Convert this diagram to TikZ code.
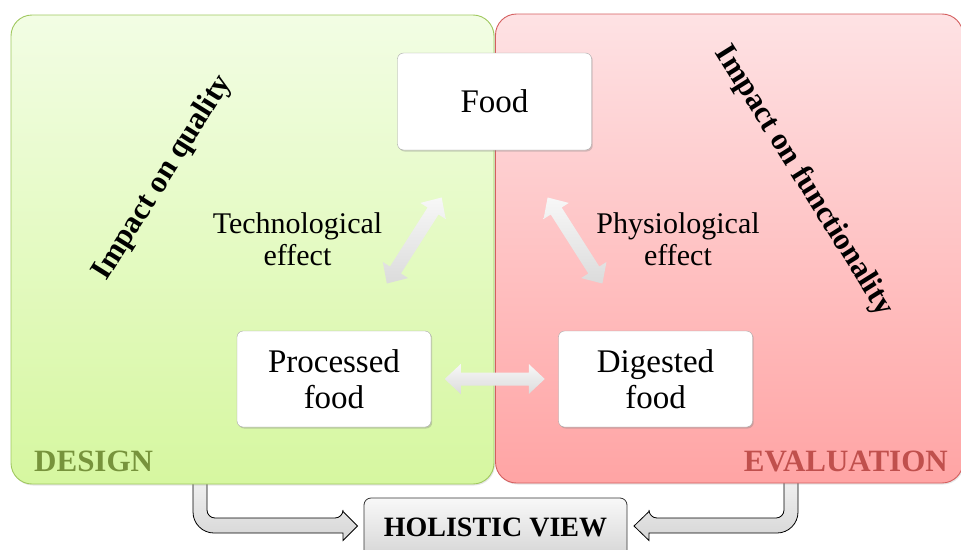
\documentclass[tikz,border=0pt]{standalone}
\usepackage{fontspec}
\setmainfont{Liberation Serif}
\usetikzlibrary{calc,shadows}
\definecolor{gtop}{RGB}{242,253,228}
\definecolor{gbot}{RGB}{214,247,160}
\definecolor{gline}{RGB}{160,200,95}
\definecolor{rtop}{RGB}{254,226,228}
\definecolor{rbot}{RGB}{255,164,164}
\definecolor{rline}{RGB}{212,95,95}
\definecolor{designc}{RGB}{119,147,60}
\definecolor{evalc}{RGB}{192,80,77}
\tikzset{
  whitebox/.style={draw=gray!70, fill=white, rounded corners=6pt, align=center,
    minimum width=194pt, minimum height=96pt, inner sep=0pt,
    font=\fontsize{33}{36}\selectfont,
    drop shadow={shadow xshift=1.2pt, shadow yshift=-1.5pt, opacity=0.35}},
  efflabel/.style={align=center, font=\fontsize{30}{32}\selectfont, inner sep=0pt},
  impact/.style={font=\bfseries\fontsize{31}{34}\selectfont, inner sep=0pt},
  arrowshade/.style={top color=gray!6, bottom color=gray!28},
  bentarrow/.style={draw=black, line width=0.8pt, top color=gray!8, bottom color=gray!32},
}
\newcommand\dblarr[3]{%
  \begin{scope}[shift={#1},rotate=#2]
    \shade[arrowshade] (-#3,0) -- (-#3+16,15) -- (-#3+16,6.5) -- (#3-16,6.5) -- (#3-16,15)
      -- (#3,0) -- (#3-16,-15) -- (#3-16,-6.5) -- (-#3+16,-6.5) -- (-#3+16,-15) -- cycle;
  \end{scope}}
\begin{document}
\begin{tikzpicture}[x=1pt,y=-1pt]
\useasboundingbox (0,0) rectangle (961,549);
\clip (0,0) rectangle (961,549);

% bent arrows to holistic view (drawn under the panels)
\path[bentarrow] (207,470) [rounded corners=8] -- (207,518) -- (343,518) [sharp corners]
  -- (343,511.5) -- (357.5,526) -- (343,540.5) -- (343,533) [rounded corners=21] -- (193,533)
  [sharp corners] -- (193,470) -- cycle;
\path[bentarrow] (784,470) [rounded corners=8] -- (784,518) -- (649,518) [sharp corners]
  -- (649,511.5) -- (634,526) -- (649,540.5) -- (649,533) [rounded corners=21] -- (798,533)
  [sharp corners] -- (798,470) -- cycle;

% panels
\shade[top color=gtop, bottom color=gbot, draw=gline, line width=0.9pt, rounded corners=21,
  drop shadow={shadow xshift=1pt, shadow yshift=-1.5pt, opacity=0.2}]
  (11,15) rectangle (494,484);
\shade[top color=rtop, bottom color=rbot, draw=rline, line width=0.9pt, rounded corners=21,
  drop shadow={shadow xshift=1pt, shadow yshift=-1.5pt, opacity=0.2}]
  (495.5,14) rectangle (963,483);

% side labels
\node[impact, rotate=58] (quality) at (163,178) {Impact on quality};
\node[impact, rotate=-58] (functionality) at (804,181) {Impact on functionality};
\node[font=\bfseries\fontsize{31}{34}\selectfont, text=designc, anchor=base west, inner sep=0pt]
  (design) at (34,471) {DESIGN};
\node[font=\bfseries\fontsize{31}{34}\selectfont, text=evalc, anchor=base east, inner sep=0pt]
  (evaluation) at (948,471) {EVALUATION};

% boxes
\node[whitebox, minimum height=97pt] (food) at (494.5,101.5) {Food};
\node[whitebox] (proc) at (334,379) {Processed\\food};
\node[whitebox] (dig) at (655.5,379) {Digested\\food};

% effect labels
\node[efflabel] (tech) at (297.5,239) {Technological\\effect};
\node[efflabel] (phys) at (678,239) {Physiological\\effect};

% double arrows
\dblarr{($(food.south west)!0.5!(proc.north east)$)}{57.5}{51}
\dblarr{($(food.south east)!0.5!(dig.north west)$)}{-57.5}{51}
\dblarr{($(proc.east)!0.5!(dig.west)$)}{0}{50}

% holistic view
\node[draw=black!80, line width=0.8pt, rounded corners=7pt, top color=gray!5, bottom color=gray!35,
  minimum width=263pt, minimum height=64pt, inner sep=0pt,
  font=\bfseries\fontsize{28}{30}\selectfont] (holistic) at (495.5,530)
  {\raisebox{5pt}{HOLISTIC VIEW}};
\end{tikzpicture}
\end{document}
